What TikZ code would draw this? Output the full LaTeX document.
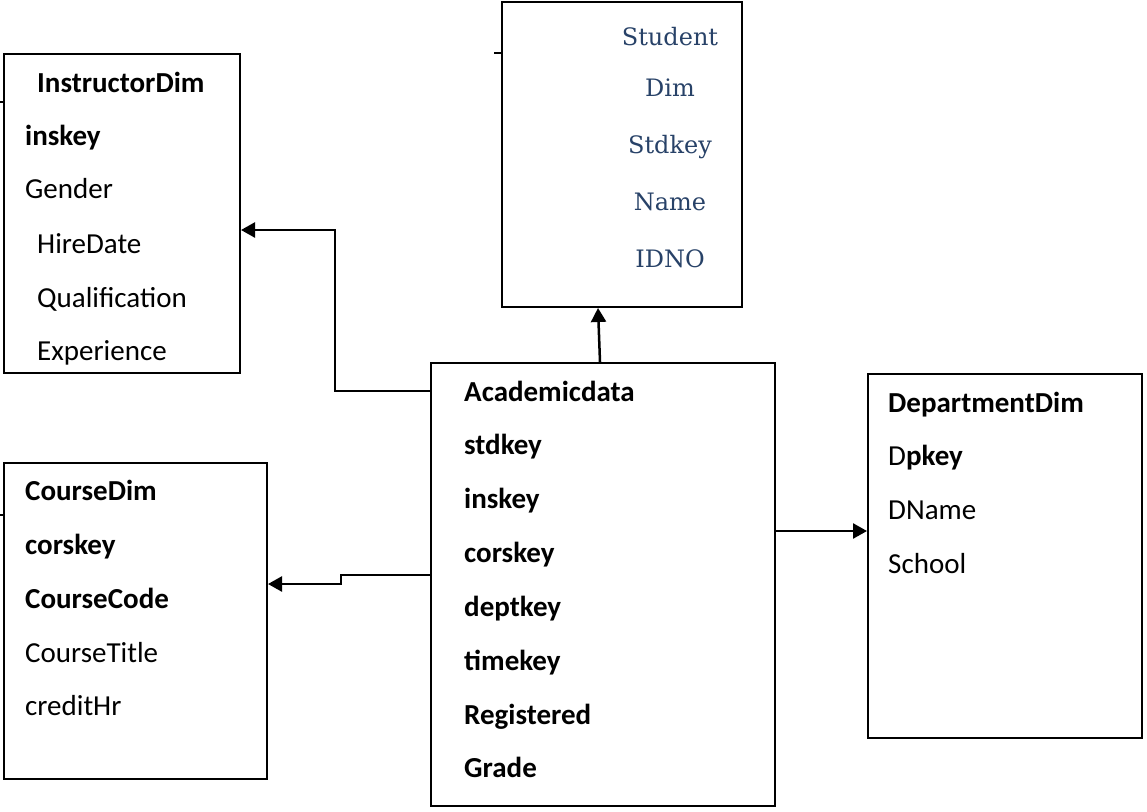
\documentclass[tikz,border=0pt]{standalone}
\usepackage{fontspec}
\setmainfont{Carlito}
\newfontfamily\studfont{DejaVu Serif}
\usetikzlibrary{arrows.meta}
\definecolor{studblue}{RGB}{40,66,104}
\begin{document}
\begin{tikzpicture}[x=1pt,y=-1pt,
  box/.style={draw, line width=2pt, rectangle, inner sep=0pt},
  lbl/.style={anchor=base west, inner sep=0pt, font=\fontsize{29}{34}\selectfont},
  slbl/.style={anchor=base, inner sep=0pt, text=studblue, font=\studfont\fontsize{24}{28}\selectfont},
  arr/.style={line width=2.5pt, -{Triangle[length=14pt,width=15pt]}},
  tick/.style={line width=1.6pt}]
\useasboundingbox (0,0) rectangle (1147,811);
% boxes
\node[box, minimum width=236pt, minimum height=319pt] (instr) at (122,213.5) {};
\node[box, minimum width=240pt, minimum height=305.5pt] (stud) at (622,154.25) {};
\node[box, minimum width=344pt, minimum height=443pt] (acad) at (603,584.5) {};
\node[box, minimum width=274pt, minimum height=364pt] (dept) at (1005,556) {};
\node[box, minimum width=263pt, minimum height=316pt] (course) at (135.5,621) {};
% ticks
\draw[tick] (instr.west |- 0,102) -- (0,102);
\draw[tick] (stud.west |- 0,53) -- ++(-7,0);
\draw[tick] (course.west |- 0,515) -- (0,515);
% InstructorDim
\node[lbl] (i1) at (37,92) {\bfseries InstructorDim};
\node[lbl] (i2) at (25,145) {\bfseries inskey};
\node[lbl] (i3) at (25,198) {Gender};
\node[lbl] (i4) at (37,253) {HireDate};
\node[lbl] (i5) at (37,307) {Qualification};
\node[lbl] (i6) at (37,360) {Experience};
% Student
\node[slbl] (s1) at (670,45) {Student};
\node[slbl] (s2) at (670,96) {Dim};
\node[slbl] (s3) at (670,153) {Stdkey};
\node[slbl] (s4) at (670,210) {Name};
\node[slbl] (s5) at (670,267) {IDNO};
% Academicdata
\node[lbl] (a1) at (464,401) {\bfseries Academicdata};
\node[lbl] (a2) at (464,454) {\bfseries stdkey};
\node[lbl] (a3) at (464,508) {\bfseries inskey};
\node[lbl] (a4) at (464,562) {\bfseries corskey};
\node[lbl] (a5) at (464,616) {\bfseries deptkey};
\node[lbl] (a6) at (464,670) {\bfseries timekey};
\node[lbl] (a7) at (464,724) {\bfseries Registered};
\node[lbl] (a8) at (464,777) {\bfseries Grade};
% DepartmentDim
\node[lbl] (d1) at (888,412) {\bfseries DepartmentDim};
\node[lbl] (d2) at (888,465) {D\textbf{pkey}};
\node[lbl] (d3) at (888,519) {DName};
\node[lbl] (d4) at (888,573) {School};
% CourseDim
\node[lbl] (c1) at (25,500) {\bfseries CourseDim};
\node[lbl] (c2) at (25,554) {\bfseries corskey};
\node[lbl] (c3) at (25,608) {\bfseries CourseCode};
\node[lbl] (c4) at (25,662) {CourseTitle};
\node[lbl] (c5) at (25,715) {creditHr};
% connectors
\draw[arr] (acad.west |- 0,391) -- ++(-95,0) |- (instr.east |- 0,230);
\draw[arr] (acad.north -| 600,0) -- (stud.south -| 598,0);
\draw[arr] (acad.west |- 0,575) -- ++(-89,0) -- ++(0,9) -- (course.east |- 0,584);
\draw[arr] (acad.east |- 0,531) -- (dept.west |- 0,531);
\end{tikzpicture}
\end{document}
